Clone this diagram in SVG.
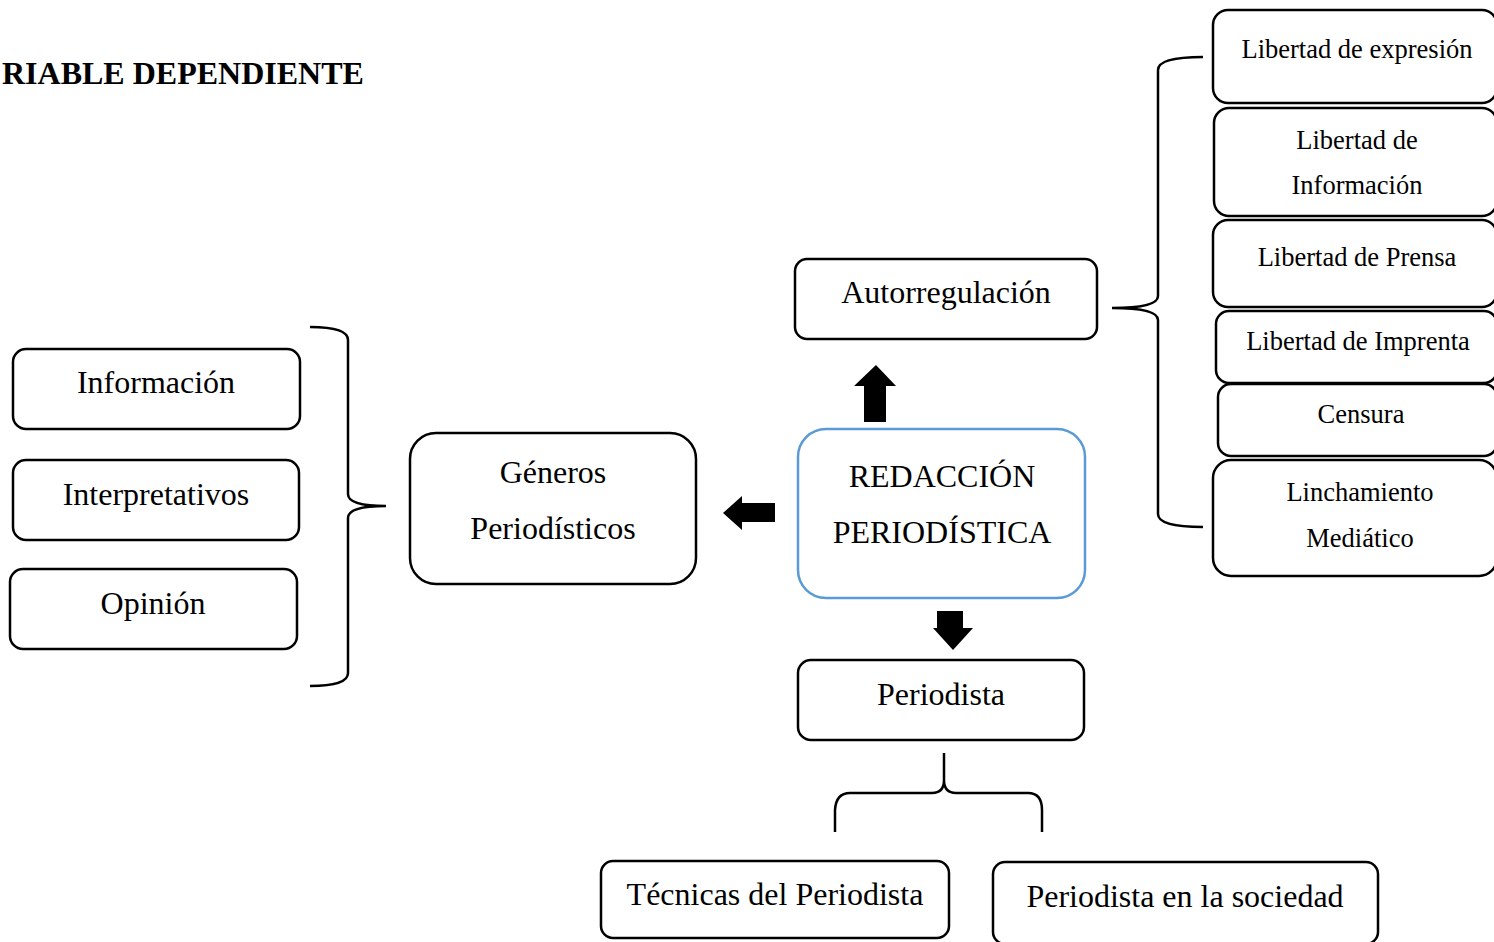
<svg xmlns="http://www.w3.org/2000/svg" width="1494" height="942" viewBox="0 0 1494 942">
<style>
.box{fill:#fff;stroke:#000;stroke-width:2.5}
.main{fill:#fff;stroke:#5b9bd5;stroke-width:2.5}
.t{font-family:"Liberation Serif","Times New Roman",serif;font-size:32px;fill:#000;text-anchor:middle}
.s{font-family:"Liberation Serif","Times New Roman",serif;font-size:26.5px;fill:#000;text-anchor:middle}
.h{font-family:"Liberation Serif","Times New Roman",serif;font-size:32px;font-weight:bold;fill:#000}
.br{fill:none;stroke:#000;stroke-width:2.5}
.ar{fill:#000}
</style>
<rect width="1494" height="942" fill="#fff"/>
<text class="h" x="2" y="84">RIABLE DEPENDIENTE</text>

<g id="connectors">
<path class="br" d="M310,327 Q348,327 348,340 L348,494 Q348,506 386,506 Q348,506 348,518 L348,673 Q348,686 310,686"/>
<path class="br" d="M1203,57 Q1158,57 1158,70 L1158,296 Q1158,308 1112,308 Q1158,308 1158,320 L1158,514 Q1158,527 1203,527"/>
<path class="br" d="M944,753 L944,780 Q944,793 932,793 L850,793 Q836,793 835,810 L835,832 M944,780 Q944,793 956,793 L1028,793 Q1042,793 1042,810 L1042,832"/>
<polygon class="ar" points="723,513 742,496 742,503 775,503 775,522 742,522 742,530"/>
<polygon class="ar" points="876,365 896,386 886,386 886,422 864,422 864,386 854,386"/>
<polygon class="ar" points="953,650 973,628 963,628 963,611 937,611 937,628 933,628"/>
</g>

<g id="title-main">
<rect class="main" x="798" y="429" width="287" height="169" rx="28"/>
<text class="t" x="942" y="487">REDACCIÓN</text>
<text class="t" x="942" y="543">PERIODÍSTICA</text>
</g>

<g id="autorregulacion">
<rect class="box" x="795" y="259" width="302" height="80" rx="12"/>
<text class="t" x="946" y="303">Autorregulación</text>
</g>

<g id="generos">
<rect class="box" x="410" y="433" width="286" height="151" rx="26"/>
<text class="t" x="553" y="483">Géneros</text>
<text class="t" x="553" y="539">Periodísticos</text>
</g>

<g id="informacion">
<rect class="box" x="13" y="349" width="287" height="80" rx="13"/>
<text class="t" x="156" y="393">Información</text>
</g>
<g id="interpretativos">
<rect class="box" x="13" y="460" width="286" height="80" rx="13"/>
<text class="t" x="156" y="505">Interpretativos</text>
</g>
<g id="opinion">
<rect class="box" x="10" y="569" width="287" height="80" rx="13"/>
<text class="t" x="153" y="614">Opinión</text>
</g>

<g id="periodista">
<rect class="box" x="798" y="660" width="286" height="80" rx="13"/>
<text class="t" x="941" y="705">Periodista</text>
</g>
<g id="tecnicas">
<rect class="box" x="601" y="861" width="348" height="77" rx="12"/>
<text class="t" x="775" y="905">Técnicas del Periodista</text>
</g>
<g id="sociedad">
<rect class="box" x="993" y="862" width="385" height="82" rx="12"/>
<text class="t" x="1185" y="907">Periodista en la sociedad</text>
</g>

<g id="lib-expresion">
<rect class="box" x="1213" y="10" width="284" height="93" rx="15"/>
<text class="s" x="1357" y="58">Libertad de expresión</text>
</g>
<g id="lib-informacion">
<rect class="box" x="1214" y="108" width="283" height="108" rx="15"/>
<text class="s" x="1357" y="149">Libertad de</text>
<text class="s" x="1357" y="194">Información</text>
</g>
<g id="lib-prensa">
<rect class="box" x="1213" y="220" width="284" height="87" rx="15"/>
<text class="s" x="1357" y="266">Libertad de Prensa</text>
</g>
<g id="lib-imprenta">
<rect class="box" x="1216" y="311" width="281" height="72" rx="13"/>
<text class="s" x="1358" y="350">Libertad de Imprenta</text>
</g>
<g id="censura">
<rect class="box" x="1218" y="384" width="279" height="72" rx="13"/>
<text class="s" x="1361" y="423">Censura</text>
</g>
<g id="linchamiento">
<rect class="box" x="1213" y="460" width="284" height="116" rx="18"/>
<text class="s" x="1360" y="501">Linchamiento</text>
<text class="s" x="1360" y="547">Mediático</text>
</g>
</svg>
